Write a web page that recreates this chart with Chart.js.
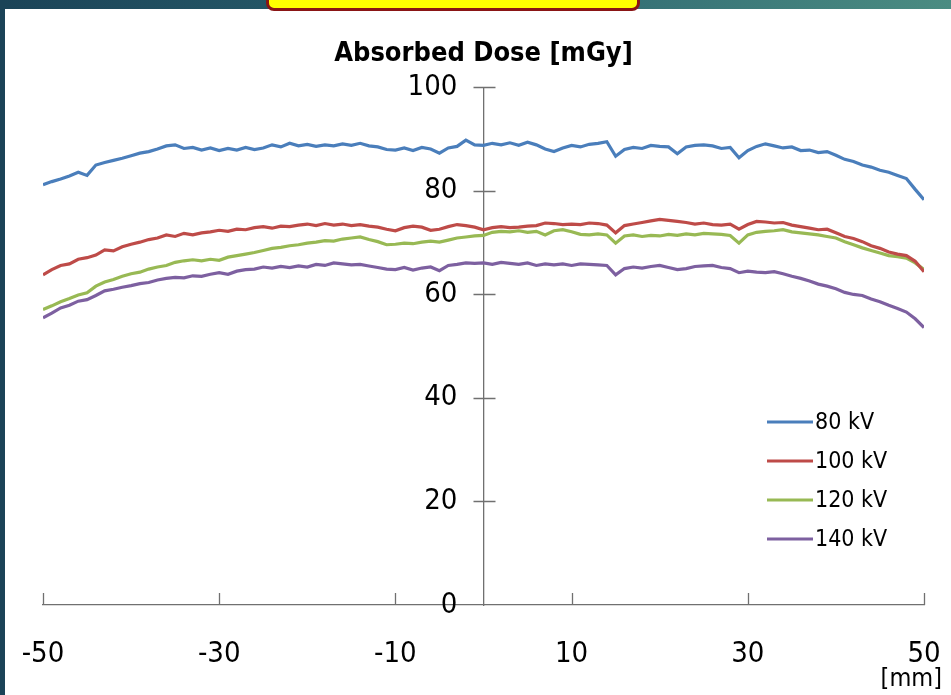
<!DOCTYPE html>
<html>
<head>
<meta charset="utf-8">
<title>Absorbed Dose profile</title>
<script src="https://cdn.jsdelivr.net/npm/chart.js@4.4.1/dist/chart.umd.min.js"></script>
<style>
  html, body { margin: 0; padding: 0; }
  body { width: 951px; height: 695px; position: relative; overflow: hidden; background: #fff; }
  #topbar { position: absolute; left: 0; top: 0; width: 951px; height: 9px;
            background: linear-gradient(to right, #1b4357, #2b6470 50%, #4b8c82); }
  #leftbar { position: absolute; left: 0; top: 0; width: 5px; height: 695px; background: #1b4357; }
  #banner { position: absolute; left: 266px; top: -12px; width: 368px; height: 17px;
            background: #ffff00; border: 3px solid #8a1515; border-radius: 8px; }
  #dose { position: absolute; left: 0; top: 0; }
</style>
</head>
<body>
<div id="topbar"></div>
<div id="leftbar"></div>
<div id="banner"></div>
<canvas id="dose" width="951" height="695"></canvas>
<script>
// position across the phantom [mm]
var positionsMm = [
  -50, -49, -48, -47, -46, -45, -44, -43, -42, -41,
  -40, -39, -38, -37, -36, -35, -34, -33, -32, -31,
  -30, -29, -28, -27, -26, -25, -24, -23, -22, -21,
  -20, -19, -18, -17, -16, -15, -14, -13, -12, -11,
  -10, -9, -8, -7, -6, -5, -4, -3, -2, -1,
  0, 1, 2, 3, 4, 5, 6, 7, 8, 9,
  10, 11, 12, 13, 14, 15, 16, 17, 18, 19,
  20, 21, 22, 23, 24, 25, 26, 27, 28, 29,
  30, 31, 32, 33, 34, 35, 36, 37, 38, 39,
  40, 41, 42, 43, 44, 45, 46, 47, 48, 49,
  50
];

// absorbed dose [mGy] per tube voltage
var dose80kV = [
  81.2, 81.8, 82.3, 82.9, 83.6, 83.0, 85.0, 85.5, 85.9, 86.3,
  86.8, 87.3, 87.6, 88.1, 88.7, 88.9, 88.2, 88.4, 87.9, 88.3,
  87.8, 88.2, 87.9, 88.4, 88.0, 88.3, 88.9, 88.5, 89.2, 88.7,
  89.0, 88.6, 88.9, 88.7, 89.1, 88.8, 89.2, 88.7, 88.5, 88.0,
  87.9, 88.3, 87.8, 88.4, 88.1, 87.3, 88.3, 88.6, 89.8, 88.9,
  88.8, 89.2, 88.9, 89.3, 88.8, 89.4, 88.9, 88.1, 87.6, 88.3,
  88.8, 88.5, 89.0, 89.2, 89.5, 86.7, 88.0, 88.4, 88.2, 88.8,
  88.6, 88.5, 87.2, 88.5, 88.8, 88.9, 88.7, 88.2, 88.4, 86.4,
  87.8, 88.6, 89.1, 88.7, 88.3, 88.5, 87.8, 87.9, 87.4, 87.6,
  86.9, 86.1, 85.7, 85.0, 84.6, 84.0, 83.6, 83.0, 82.4, 80.3,
  78.3
];
var dose100kV = [
  63.8, 64.8, 65.6, 65.9, 66.8, 67.1, 67.6, 68.6, 68.4, 69.2,
  69.7, 70.1, 70.6, 70.9, 71.5, 71.2, 71.8, 71.5, 71.9, 72.1,
  72.4, 72.2, 72.6, 72.5, 72.9, 73.1, 72.8, 73.2, 73.1, 73.4,
  73.6, 73.3, 73.7, 73.4, 73.6, 73.3, 73.5, 73.2, 73.0, 72.6,
  72.3, 72.9, 73.2, 73.0, 72.4, 72.6, 73.1, 73.5, 73.3, 73.0,
  72.5, 72.9, 73.1, 72.9, 73.0, 73.2, 73.3, 73.8, 73.7, 73.5,
  73.6, 73.5, 73.8, 73.7, 73.4, 71.9, 73.3, 73.6, 73.9, 74.2,
  74.5, 74.3, 74.1, 73.9, 73.6, 73.8, 73.5, 73.4, 73.6, 72.6,
  73.5, 74.1, 74.0, 73.8, 73.9, 73.4, 73.1, 72.8, 72.5, 72.6,
  71.9, 71.2, 70.8, 70.2, 69.4, 68.9, 68.2, 67.8, 67.5, 66.4,
  64.4
];
var dose120kV = [
  57.1, 57.8, 58.6, 59.2, 59.9, 60.3, 61.6, 62.4, 62.9, 63.5,
  64.0, 64.3, 64.9, 65.3, 65.6, 66.2, 66.5, 66.7, 66.5, 66.8,
  66.6, 67.2, 67.5, 67.8, 68.1, 68.5, 68.9, 69.1, 69.4, 69.6,
  69.9, 70.1, 70.4, 70.3, 70.7, 70.9, 71.1, 70.6, 70.2, 69.6,
  69.7, 69.9, 69.8, 70.1, 70.3, 70.1, 70.5, 70.9, 71.1, 71.3,
  71.4, 72.0, 72.2, 72.1, 72.3, 72.0, 72.2, 71.5, 72.3, 72.5,
  72.1, 71.6, 71.5, 71.7, 71.5, 69.9, 71.3, 71.5, 71.2, 71.4,
  71.3, 71.6, 71.4, 71.7, 71.5, 71.8, 71.7, 71.6, 71.4, 69.9,
  71.5, 72.0, 72.2, 72.3, 72.5, 72.1, 71.9, 71.7, 71.5, 71.2,
  70.9, 70.2, 69.6, 69.0, 68.5, 68.0, 67.5, 67.3, 67.0, 66.1,
  64.8
];
var dose140kV = [
  55.5, 56.4, 57.4, 57.9, 58.7, 59.0, 59.8, 60.7, 61.0, 61.4,
  61.7, 62.1, 62.3, 62.8, 63.1, 63.3, 63.2, 63.6, 63.5, 63.9,
  64.2, 63.9, 64.5, 64.8, 64.9, 65.3, 65.1, 65.4, 65.2, 65.5,
  65.3, 65.8, 65.6, 66.1, 65.9, 65.7, 65.8, 65.5, 65.2, 64.9,
  64.8, 65.2, 64.7, 65.1, 65.3, 64.6, 65.6, 65.8, 66.1, 66.0,
  66.1, 65.8, 66.2, 66.0, 65.8, 66.1, 65.6, 65.9, 65.7, 65.9,
  65.6, 65.9, 65.8, 65.7, 65.6, 63.8, 65.0, 65.3, 65.1, 65.4,
  65.6, 65.2, 64.8, 65.0, 65.4, 65.5, 65.6, 65.2, 65.0, 64.2,
  64.5, 64.3, 64.2, 64.4, 64.0, 63.5, 63.1, 62.6, 62.0, 61.6,
  61.1, 60.4, 60.0, 59.8, 59.1, 58.6, 57.9, 57.3, 56.6, 55.3,
  53.6
];

var seriesLabels = ['80 kV', '100 kV', '120 kV', '140 kV'];
var xTicks = [-50, -30, -10, 10, 30, 50];
var yTicks = [0, 20, 40, 60, 80, 100];

var FONT = "'Liberation Sans Narrow', 'DejaVu Sans Condensed', 'Liberation Sans', sans-serif";
var colors = ['#4a7ebb', '#be4b48', '#98b954', '#7d60a0'];
var axisColor = '#707070';

function toPoints(values) {
  return values.map((v, i) => ({ x: positionsMm[i], y: v }));
}

var allSeries = [dose80kV, dose100kV, dose120kV, dose140kV];
var datasets = allSeries.map((values, i) => ({
  label: seriesLabels[i],
  data: toPoints(values),
  borderColor: colors[i],
  borderWidth: 3.2,
  pointRadius: 0,
  tension: 0,
  fill: false
}));

// crossing tick marks, the unit label and the legend block
var axisMarks = {
  id: 'axisMarks',
  afterDraw(chart) {
    var ctx = chart.ctx;
    var x = chart.scales.x, y = chart.scales.y;
    var x0 = x.getPixelForValue(0);
    var y0 = y.getPixelForValue(0);
    ctx.save();
    ctx.strokeStyle = axisColor;
    ctx.lineWidth = 1.3;
    ctx.beginPath();
    xTicks.forEach(v => {
      var px = Math.round(x.getPixelForValue(v)) + 0.5;
      ctx.moveTo(px, y0 - 12);
      ctx.lineTo(px, y0);
    });
    yTicks.forEach(v => {
      if (v === 0) return;
      var py = Math.round(y.getPixelForValue(v)) + 0.5;
      ctx.moveTo(x0 - 10, py);
      ctx.lineTo(x0 + 12, py);
    });
    ctx.stroke();

    ctx.fillStyle = '#000';
    ctx.font = '25px ' + FONT;
    ctx.textAlign = 'right';
    ctx.textBaseline = 'middle';
    ctx.fillText('[mm]', x.right + 18, 679);

    // legend
    var lx = chart.chartArea.right - 157;
    var ly = 422;
    ctx.font = '23px ' + FONT;
    ctx.textAlign = 'left';
    chart.data.datasets.forEach((ds, i) => {
      var yy = ly + i * 39;
      ctx.strokeStyle = ds.borderColor;
      ctx.lineWidth = 3;
      ctx.beginPath();
      ctx.moveTo(lx, yy);
      ctx.lineTo(lx + 46, yy);
      ctx.stroke();
      ctx.fillText(ds.label, lx + 48, yy + 1);
    });
    ctx.restore();
  }
};

new Chart(document.getElementById('dose').getContext('2d'), {
  type: 'line',
  data: { datasets: datasets },
  plugins: [axisMarks],
  options: {
    responsive: false,
    animation: false,
    devicePixelRatio: 1,
    layout: { padding: { left: 43, right: 27, top: 0, bottom: 0 } },
    plugins: {
      legend: { display: false },
      tooltip: { enabled: false },
      title: {
        display: true,
        text: 'Absorbed Dose [mGy]',
        color: '#000',
        font: { family: FONT, size: 27, weight: 'bold' },
        padding: { top: 38, bottom: 17 }
      }
    },
    scales: {
      x: {
        type: 'linear',
        min: -50,
        max: 50,
        position: 'bottom',
        afterBuildTicks: s => { s.ticks = xTicks.map(v => ({ value: v })); },
        afterFit: s => { s.height = 90; },
        // invisible tick marks push the labels down without widening the side padding
        grid: { display: true, drawOnChartArea: false, drawTicks: true, tickLength: 30, tickColor: 'rgba(0,0,0,0)' },
        border: { display: true, color: axisColor, width: 1.3 },
        ticks: {
          color: '#000',
          font: { family: FONT, size: 29 },
          padding: 2,
          autoSkip: false,
          maxRotation: 0
        }
      },
      y: {
        type: 'linear',
        min: 0,
        max: 100,
        position: { x: 0 },
        afterBuildTicks: s => { s.ticks = yTicks.map(v => ({ value: v })); },
        afterFit: s => { s.width = 0; },
        grid: { display: true, drawOnChartArea: false, drawTicks: false },
        border: { display: true, color: axisColor, width: 1.3 },
        ticks: {
          color: '#000',
          font: { family: FONT, size: 29 },
          // keep the numbers clear of the centred axis line
          callback: v => v + '\u2003'
        }
      }
    }
  }
});
</script>
</body>
</html>
